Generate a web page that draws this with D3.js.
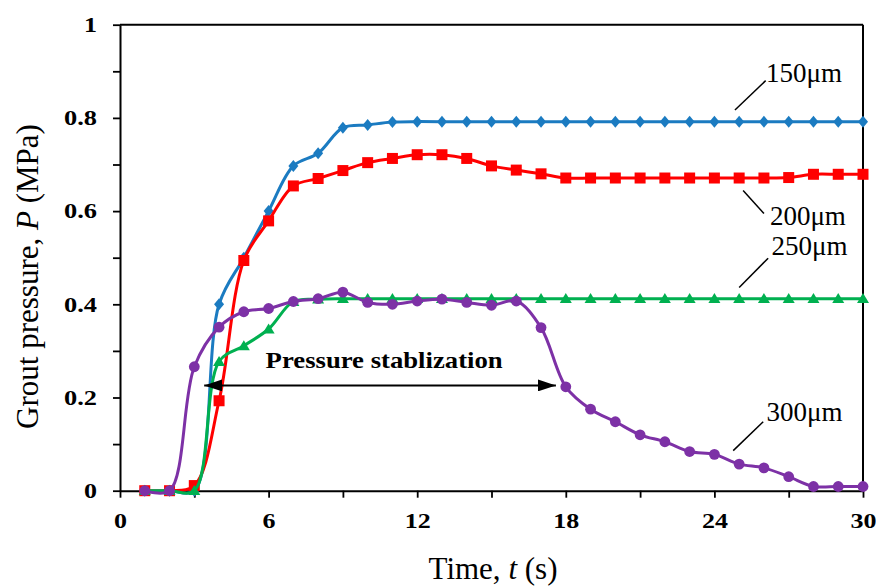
<!DOCTYPE html>
<html>
<head>
<meta charset="utf-8">
<script src="https://cdn.jsdelivr.net/npm/d3@7"></script>
<style>
  html, body { margin: 0; padding: 0; background: #ffffff; }
  svg { display: block; }
  text { font-family: "Liberation Serif", "Times New Roman", serif; fill: #000; }
</style>
</head>
<body>
<svg id="chart" width="876" height="588"></svg>
<script>
// Sampling times (s)
const timeSec = [1, 2, 3, 4, 5, 6, 7, 8, 9, 10, 11, 12, 13, 14, 15,
                 16, 17, 18, 19, 20, 21, 22, 23, 24, 25, 26, 27, 28, 29, 30];

// Grout pressure (MPa) for each fissure aperture
const p150 = [0, 0, 0, 0.400, 0.500, 0.600, 0.697, 0.724, 0.779, 0.785,
              0.791, 0.792, 0.792, 0.792, 0.792, 0.792, 0.792, 0.792, 0.792, 0.792,
              0.792, 0.792, 0.792, 0.792, 0.792, 0.792, 0.792, 0.792, 0.792, 0.792];
const p200 = [0, 0, 0.011, 0.193, 0.494, 0.579, 0.654, 0.670, 0.687, 0.704,
              0.713, 0.721, 0.721, 0.713, 0.697, 0.688, 0.680, 0.671, 0.671, 0.671,
              0.671, 0.671, 0.671, 0.671, 0.671, 0.671, 0.672, 0.679, 0.679, 0.679];
const p250 = [0, 0, 0, 0.277, 0.311, 0.347, 0.406, 0.411, 0.412, 0.412,
              0.412, 0.412, 0.412, 0.412, 0.412, 0.412, 0.412, 0.412, 0.412, 0.412,
              0.412, 0.412, 0.412, 0.412, 0.412, 0.412, 0.412, 0.412, 0.412, 0.412];
const p300 = [0, 0, 0.266, 0.351, 0.384, 0.391, 0.406, 0.412, 0.426, 0.404,
              0.400, 0.407, 0.411, 0.404, 0.398, 0.407, 0.350, 0.223, 0.175, 0.148,
              0.120, 0.105, 0.084, 0.078, 0.057, 0.049, 0.030, 0.009, 0.009, 0.009];

const seriesNames = ["150\u03bcm", "200\u03bcm", "250\u03bcm", "300\u03bcm"];

// Axis ticks
const xTickValues = [0, 3, 6, 9, 12, 15, 18, 21, 24, 27, 30];
const xTickLabels = ["0", "", "6", "", "12", "", "18", "", "24", "", "30"];
const yTickValues = [0, 0.1, 0.2, 0.3, 0.4, 0.5, 0.6, 0.7, 0.8, 0.9, 1];
const yTickLabels = ["0", "", "0.2", "", "0.4", "", "0.6", "", "0.8", "", "1"];

const svg = d3.select("#chart");
const x = d3.scaleLinear().domain([0, 30]).range([120, 863]);
const y = d3.scaleLinear().domain([0, 1]).range([490.7, 24.7]);

// ---- axes ----
const xAxis = d3.axisBottom(x).tickValues(xTickValues).tickSize(7).tickSizeOuter(0)
  .tickFormat((d, i) => xTickLabels[i]);
const yAxis = d3.axisLeft(y).tickValues(yTickValues).tickSize(7).tickSizeOuter(0)
  .tickFormat((d, i) => yTickLabels[i]);

const gx = svg.append("g").attr("transform", `translate(0,${y(0)})`).call(xAxis);
const gy = svg.append("g").attr("transform", `translate(${x(0)},0)`).call(yAxis);

// wide bold tick numerals: each digit ~13px, decimal point ~7px
const labelWidth = s => s.replace(/[^0-9]/g, "").length * 13 + s.replace(/[0-9]/g, "").length * 7;

[gx, gy].forEach(g => {
  g.attr("font-family", null).attr("font-size", null);
  g.select(".domain").attr("stroke", "#000").attr("stroke-width", 2);
  g.selectAll(".tick line").attr("stroke", "#000").attr("stroke-width", 1.8);
  g.selectAll(".tick text")
    .style("font-family", "'Liberation Serif','Times New Roman',serif")
    .style("font-weight", "bold")
    .style("font-size", "21.5px")
    .attr("fill", "#000")
    .each(function () {
      const s = d3.select(this).text();
      if (s) d3.select(this).attr("textLength", labelWidth(s)).attr("lengthAdjust", "spacingAndGlyphs");
    });
});
gx.selectAll(".tick text").attr("y", 37).attr("dy", null);
gy.selectAll(".tick text").attr("x", -23);

// frame: top and right edges
svg.append("line")
  .attr("x1", x(0)).attr("x2", x(30)).attr("y1", y(1)).attr("y2", y(1))
  .attr("stroke", "#000").attr("stroke-width", 2);
svg.append("line")
  .attr("x1", x(30)).attr("x2", x(30)).attr("y1", y(1)).attr("y2", y(0))
  .attr("stroke", "#000").attr("stroke-width", 2);

// ---- axis titles ----
const xTitle = svg.append("text")
  .attr("x", 493).attr("y", 579)
  .attr("text-anchor", "middle").attr("font-size", 31);
xTitle.append("tspan").text("Time, ");
xTitle.append("tspan").attr("font-style", "italic").text("t");
xTitle.append("tspan").text(" (s)");

const yTitle = svg.append("text")
  .attr("transform", "translate(38,276.5) rotate(-90)")
  .attr("text-anchor", "middle").attr("font-size", 31);
yTitle.append("tspan").text("Grout pressure, ");
yTitle.append("tspan").attr("font-style", "italic").text("P");
yTitle.append("tspan").text(" (MPa)");

// ---- series ----
const seriesData = [p150, p200, p250, p300];
const colors = ["#1b7bc1", "#ff0000", "#00b050", "#7d31a6"];
const markerShapes = [
  "M0,-6L5,0L0,6L-5,0Z",
  d3.symbol(d3.symbolSquare, 121)(),
  "M0,-5.6L6,4.4L-6,4.4Z",
  d3.symbol(d3.symbolCircle, Math.PI * 5.4 * 5.4)()
];

const line = d3.line()
  .x(d => x(d.t))
  .y(d => y(d.p))
  .curve(d3.curveCatmullRom.alpha(0.5));

seriesData.forEach((vals, k) => {
  const pts = timeSec.map((t, i) => ({ t: t, p: vals[i] }));
  const g = svg.append("g");
  g.append("path")
    .datum(pts)
    .attr("d", line)
    .attr("fill", "none")
    .attr("stroke", colors[k])
    .attr("stroke-width", 3)
    .attr("stroke-linejoin", "round");
  g.selectAll("path.mk")
    .data(pts)
    .join("path")
    .attr("class", "mk")
    .attr("d", markerShapes[k])
    .attr("transform", d => `translate(${x(d.t)},${y(d.p)})`)
    .attr("fill", colors[k]);
});

// ---- series labels with leader lines ----
const seriesLabels = [
  { name: seriesNames[0], from: [24.83, 0.817], to: [26.07, 0.880], at: [26.08, 0.878] },
  { name: seriesNames[1], from: [25.16, 0.644], to: [26.00, 0.595], at: [26.24, 0.570] },
  { name: seriesNames[2], from: [25.00, 0.436], to: [26.17, 0.499], at: [26.31, 0.506] },
  { name: seriesNames[3], from: [24.76, 0.086], to: [25.97, 0.148], at: [26.10, 0.150] }
];
seriesLabels.forEach(s => {
  svg.append("line")
    .attr("x1", x(s.from[0])).attr("y1", y(s.from[1]))
    .attr("x2", x(s.to[0])).attr("y2", y(s.to[1]))
    .attr("stroke", "#000").attr("stroke-width", 1.5);
  svg.append("text")
    .attr("x", x(s.at[0])).attr("y", y(s.at[1]))
    .attr("font-size", 27)
    .text(s.name);
});

// ---- stabilization span annotation ----
const defs = svg.append("defs");
defs.append("marker")
  .attr("id", "arrowHead")
  .attr("markerUnits", "userSpaceOnUse")
  .attr("viewBox", "0 0 18 12")
  .attr("markerWidth", 18).attr("markerHeight", 12)
  .attr("refX", 18).attr("refY", 6)
  .attr("orient", "auto-start-reverse")
  .append("path").attr("d", "M0,0L18,6L0,12Z").attr("fill", "#000");

const spanStart = 3.4, spanEnd = 17.6, spanLevel = 0.226;
svg.append("line")
  .attr("x1", x(spanStart)).attr("x2", x(spanEnd))
  .attr("y1", y(spanLevel)).attr("y2", y(spanLevel))
  .attr("stroke", "#000").attr("stroke-width", 2)
  .attr("marker-start", "url(#arrowHead)")
  .attr("marker-end", "url(#arrowHead)");

svg.append("text")
  .attr("x", x(5.88)).attr("y", y(0.264))
  .attr("font-size", 24).attr("font-weight", "bold")
  .attr("textLength", 237).attr("lengthAdjust", "spacingAndGlyphs")
  .text("Pressure stablization");
</script>
</body>
</html>
